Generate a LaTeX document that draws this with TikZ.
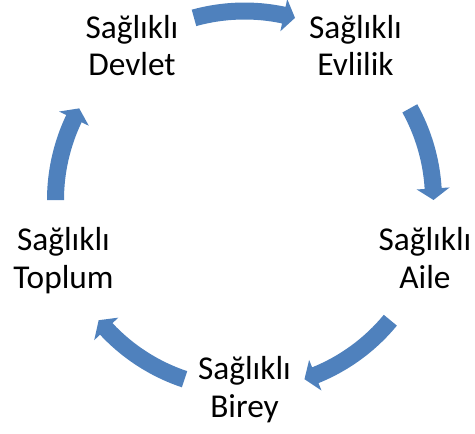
\documentclass[tikz,border=0pt]{standalone}
\usepackage{fontspec}
\setmainfont{Carlito}
\usepackage{xcolor}
\definecolor{cycleblue}{HTML}{4F81BD}
\usetikzlibrary{positioning,calc}

\begin{document}
\begin{tikzpicture}[x=0.75pt, y=0.75pt,
  lbl/.style={align=center, inner sep=0pt, anchor=base, font=\fontsize{25}{28}\selectfont},
  bendarrow/.style={fill=cycleblue, draw=none}]
\useasboundingbox (0,0) rectangle (475,433);
\coordinate (O) at (244.5,233);
\node[lbl] (devlet) at (132,357) {Sağlıklı\\Devlet};
\node[lbl] (evlilik) at (355.5,357) {Sağlıklı\\Evlilik};
\node[lbl] (aile) at (425,145) {Sağlıklı\\Aile};
\node[lbl] (birey) at (244.5,16) {Sağlıklı\\Birey};
\node[lbl] (toplum) at (63.5,145) {Sağlıklı\\Toplum};
\begin{scope}[shift={(O)}]
\foreach \ta/\tb in {105.5/74.5, 29/0, -39.5/-71.5, -108.5/-140.5, 180/151} {
  \pgfmathsetmacro{\hb}{\tb+3.5}
  \fill[bendarrow] (\ta:197.5) arc[start angle=\ta, end angle=\hb, radius=197.5]
    -- (\hb:205.5) -- (\tb:189) -- (\hb:172.5) -- (\hb:180.5)
    arc[start angle=\hb, end angle=\ta, radius=180.5] -- cycle;
}
\end{scope}
\end{tikzpicture}
\end{document}
